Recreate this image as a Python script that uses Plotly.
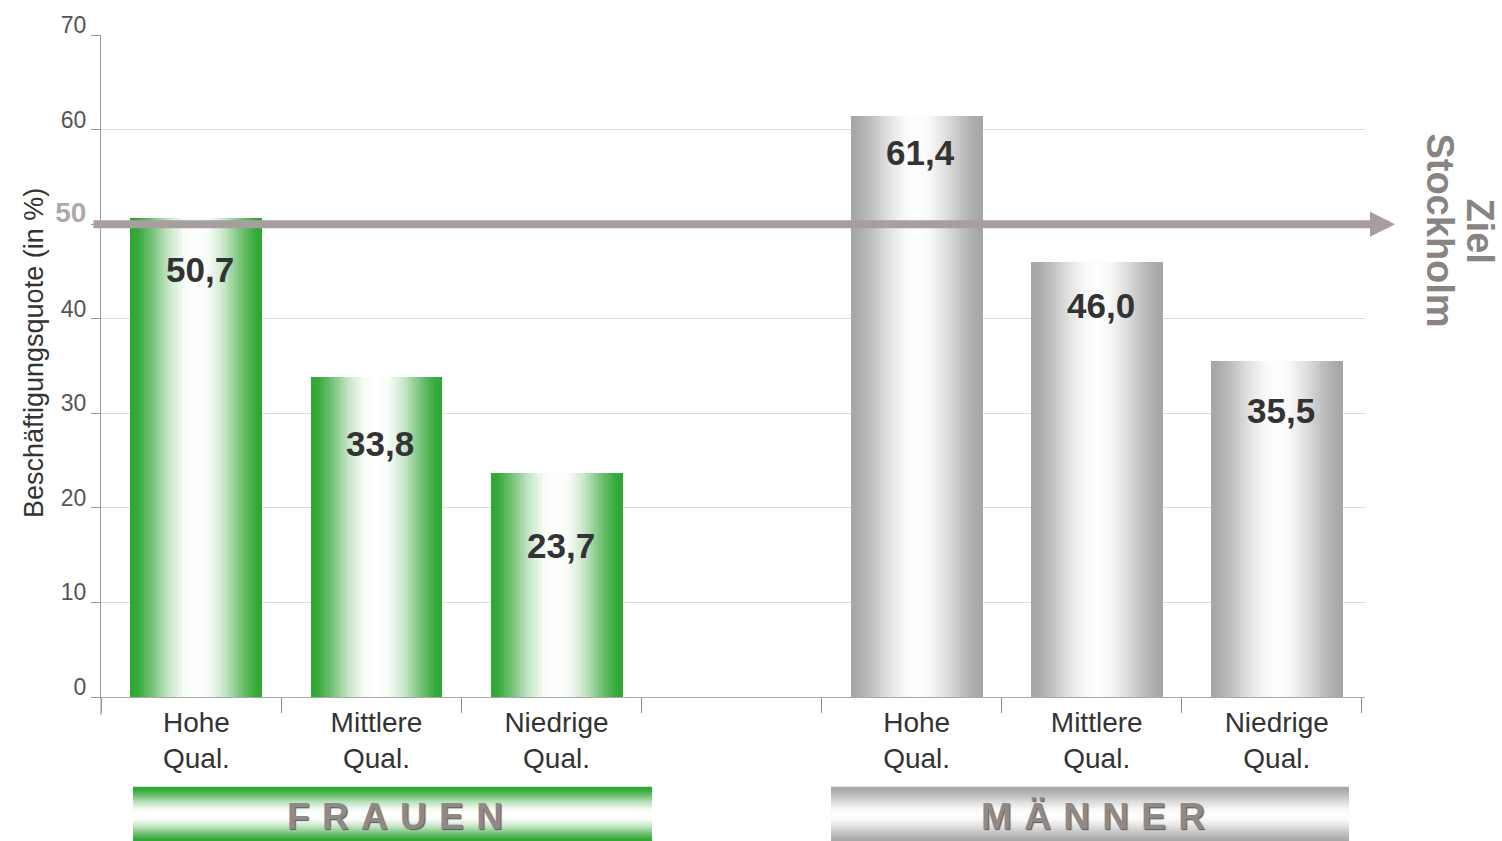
import plotly.graph_objects as go
from plotly.colors import sample_colorscale

# ---- data -------------------------------------------------------------
categories = ["Hohe<br>Qual.", "Mittlere<br>Qual.", "Niedrige<br>Qual."]
frauen = [50.7, 33.8, 23.7]
maenner = [61.4, 46.0, 35.5]
group_names = ["FRAUEN", "MÄNNER"]
ziel = 50                       # Stockholm target employment rate
y_tick_values = [0, 10, 20, 30, 40, 50, 60, 70]

# ---- layout helpers ---------------------------------------------------
x_frauen = [0, 1, 2]
x_maenner = [4, 5, 6]
x_range = [-0.53, 6.49]
bar_width = 0.733
layers = 40

# colour profiles from the bar edge (0) to its centre (1)
green_profile = [[0.0, "#2ea733"], [0.1, "#36aa3b"], [0.3, "#6fc072"],
                 [0.55, "#c2e4c3"], [0.8, "#f8fcf8"], [1.0, "#ffffff"]]
grey_profile = [[0.0, "#a6a6a6"], [0.1, "#ababab"], [0.3, "#bfbfbf"],
                [0.55, "#e0e0e0"], [0.8, "#f8f8f8"], [1.0, "#ffffff"]]

# vertical offset (px) of each value label below the bar top
drop_frauen = [52, 66, 73]
drop_maenner = [36, 44, 49]

FONT = "Liberation Sans, Arial, Helvetica, sans-serif"

fig = go.Figure()


def add_gradient_bars(xs, values, profile):
    """Overlay progressively narrower bars to build a cylinder-like shading."""
    fractions = [k / layers for k in range(layers)]
    colors = sample_colorscale(profile, fractions)
    for frac, col in zip(fractions, colors):
        fig.add_trace(go.Bar(
            x=xs, y=values, width=bar_width * (1 - frac),
            marker=dict(color=col, line=dict(width=0)),
            showlegend=False, hoverinfo="skip" if frac > 0 else "y",
        ))


add_gradient_bars(x_frauen, frauen, green_profile)
add_gradient_bars(x_maenner, maenner, grey_profile)

annotations = []

# value labels inside the bars
for xs, vals, drops in [(x_frauen, frauen, drop_frauen),
                        (x_maenner, maenner, drop_maenner)]:
    for x, v, d in zip(xs, vals, drops):
        annotations.append(dict(
            x=x, y=v, xref="x", yref="y", xshift=4, yshift=-d,
            text="<b>" + f"{v:.1f}".replace(".", ",") + "</b>", showarrow=False,
            font=dict(family=FONT, size=35, color="#333333"),
            xanchor="center", yanchor="middle",
        ))

# target arrow at 50 %
plot_left, plot_right = 101, 1365
plot_top, plot_bottom = 33, 697
plot_w = plot_right - plot_left
plot_h = plot_bottom - plot_top
arrow_tip_px, arrow_tail_px = 1395, 92
annotations.append(dict(
    xref="paper", yref="y", x=(arrow_tip_px - plot_left) / plot_w, y=ziel,
    ax=arrow_tail_px - arrow_tip_px, ay=0, text="", showarrow=True,
    arrowhead=2, arrowsize=0.625, arrowwidth=8, arrowcolor="#a69e9f",
    standoff=0,
))

# "Ziel Stockholm" rotated caption
for txt, xpx in [("Stockholm", 1440), ("Ziel", 1480)]:
    annotations.append(dict(
        xref="paper", yref="paper", x=(xpx - plot_left) / plot_w,
        y=(plot_bottom - 229) / plot_h, text=f"<b>{txt}</b>", textangle=90,
        showarrow=False, xanchor="center", yanchor="middle",
        font=dict(family=FONT, size=38, color="#8a8383"),
    ))

# y-axis title
annotations.append(dict(
    xref="paper", yref="paper", x=(34 - plot_left) / plot_w,
    y=(plot_bottom - 352) / plot_h, text="Beschäftigungsquote (in %)",
    textangle=-90, showarrow=False, xanchor="center", yanchor="middle",
    font=dict(family=FONT, size=27, color="#333333"),
))

# left axis line runs a little below the zero line
shapes = [dict(type="line", xref="paper", yref="paper", x0=0, x1=0,
               y0=0, y1=-18 / plot_h, line=dict(color="#9a9a9a", width=1))]

# group banners below the axis
banner_top, banner_bottom = 787, 843
banner_mid = (banner_top + banner_bottom) / 2
banner_half = (banner_bottom - banner_top) / 2
banner_layers = 28
for name, (x0px, x1px), profile, text_center in [
        (group_names[0], (133, 652), green_profile, 395),
        (group_names[1], (831, 1349), grey_profile, 1093)]:
    fracs = [k / banner_layers for k in range(banner_layers)]
    cols = sample_colorscale(profile, fracs)
    for frac, col in zip(fracs, cols):
        h = banner_half * (1 - frac)
        shapes.append(dict(
            type="rect", xref="paper", yref="paper",
            x0=(x0px - plot_left) / plot_w, x1=(x1px - plot_left) / plot_w,
            y0=(plot_bottom - (banner_mid + h)) / plot_h,
            y1=(plot_bottom - (banner_mid - h)) / plot_h,
            fillcolor=col, line=dict(width=0), layer="above",
        ))
    annotations.append(dict(
        xref="paper", yref="paper", x=(text_center - plot_left) / plot_w,
        y=(plot_bottom - 817) / plot_h,
        text="<b>" + "\u2004".join(name) + "</b>",
        showarrow=False, xanchor="center", yanchor="middle",
        font=dict(family=FONT, size=37, color="#908989",
                  shadow="1px 1px 1px #555555"),
    ))

y_tick_text = [
    f"<b><span style='font-size:28px;color:#b0a9a9'>{v}</span></b>"
    if v == ziel else str(v)
    for v in y_tick_values
]

fig.update_layout(
    width=1502, height=841,
    margin=dict(l=plot_left, r=1502 - plot_right, t=plot_top,
                b=841 - plot_bottom),
    paper_bgcolor="white", plot_bgcolor="white",
    barmode="overlay", bargap=0,
    font=dict(family=FONT),
    showlegend=False,
    annotations=annotations,
    shapes=shapes,
    xaxis=dict(
        range=x_range,
        tickvals=x_frauen + x_maenner,
        ticktext=categories + categories,
        ticks="", showgrid=False, zeroline=False,
        showline=True, linecolor="#a9a9a9", linewidth=1,
        tickfont=dict(family=FONT, size=28, color="#333333"),
        minor=dict(tick0=x_range[0] + 1, dtick=1, ticks="outside", ticklen=15,
                   tickcolor="#8c8c8c", tickwidth=1, showgrid=False),
    ),
    yaxis=dict(
        range=[0, 70],
        tickvals=y_tick_values, ticktext=y_tick_text,
        ticks="outside", ticklen=9, tickcolor="#9a9a9a",
        ticklabelshift=-10,
        showgrid=True, gridcolor="#dcdcdc", gridwidth=1,
        zeroline=False, showline=True, linecolor="#9a9a9a", linewidth=1,
        tickfont=dict(family=FONT, size=23, color="#555555"),
    ),
)

fig.write_html("out.html")
